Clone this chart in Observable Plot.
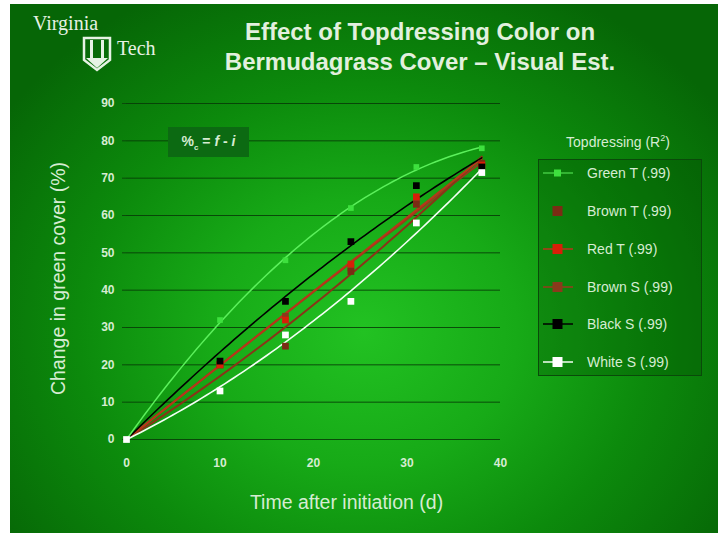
<!DOCTYPE html>
<html><head><meta charset="utf-8">
<script src="https://cdn.jsdelivr.net/npm/d3@7"></script>
<script src="https://cdn.jsdelivr.net/npm/@observablehq/plot@0.6"></script>
<style>
html,body{margin:0;padding:0;background:#fff;}
#page{position:relative;width:718px;height:535px;overflow:hidden;font-family:"Liberation Sans",Arial,sans-serif;}
#bg{position:absolute;left:10px;top:4px;width:708px;height:529px;
 background:radial-gradient(ellipse 62% 72% at 50% 62%, #22c222 0%, #17aa17 35%, #0c8a0c 65%, #066606 100%);}
#chart{position:absolute;left:0;top:0;}
.title{position:absolute;left:150px;width:540px;text-align:center;color:#e2f0de;font-size:24px;font-weight:bold;line-height:30px;top:17px;}
.lg{position:absolute;left:538px;top:159px;width:164px;height:217px;border:1px solid #0a4a0a;background:rgba(0,70,0,0.28);box-sizing:border-box;}
.lgt{position:absolute;left:528px;width:180px;top:133px;text-align:center;color:#d6ecd2;font-size:14px;}
.row{position:absolute;left:541px;height:20px;display:flex;align-items:center;color:#d6ecd2;font-size:14px;}
.row svg{margin-right:12px;}
.inset{position:absolute;left:168px;top:127px;width:81px;height:30px;background:#0c6a12;color:#d6ecd2;font-size:14px;font-weight:bold;display:flex;align-items:center;justify-content:center;}
.logo{position:absolute;left:33px;top:12px;color:#e6f2e4;font-family:"Liberation Serif","DejaVu Serif",serif;}
</style></head>
<body>
<div id="page">
<div id="bg"></div>
<div class="logo">
 <div style="position:absolute;left:0;top:0;font-size:20px;">Virginia</div>
 <svg style="position:absolute;left:49px;top:24px;" width="30" height="36" viewBox="0 0 30 36">
  <path d="M2 2 H28 V24 L15 34 L2 24 Z" fill="none" stroke="#e6f2e4" stroke-width="2.5"/>
  <rect x="8" y="4" width="3" height="18" fill="#e6f2e4"/><rect x="19" y="4" width="3" height="18" fill="#e6f2e4"/>
  <path d="M4 22 H26 L15 32 Z" fill="#e6f2e4"/>
 </svg>
 <div style="position:absolute;left:84px;top:25px;font-size:20px;">Tech</div>
</div>
<div class="title">Effect of Topdressing Color on<br>Bermudagrass Cover – Visual Est.</div>
<div id="chart"></div>
<div class="inset"><span>%<sub style="font-size:8px">c</sub>&nbsp;=&nbsp;<i>f</i>&nbsp;-&nbsp;<i>i</i></span></div>
<div class="lgt">Topdressing (R<sup style="font-size:9px">2</sup>)</div>
<div class="lg"></div>
<div id="legend"></div>
</div>
<script>
const days = [0, 10, 17, 24, 31, 38];
const seriesNames = ["Green T", "Brown T", "Red T", "Brown S", "Black S", "White S"];
const greenT = [0, 32, 48, 62, 73, 78];
const brownT = [0, 20, 25, 45, 63, 74];
const redT   = [0, 20, 32, 47, 65, 73.5];
const brownS = [0, 20, 33, 46, 64, 73];
const blackS = [0, 21, 37, 53, 68, 73];
const whiteS = [0, 13, 28, 37, 58, 71.5];
const r2Labels = [".99", ".99", ".99", ".99", ".99", ".99"];
const yTicks = [0, 10, 20, 30, 40, 50, 60, 70, 80, 90];
const xTicks = [0, 10, 20, 30, 40];

const values = [greenT, brownT, redT, brownS, blackS, whiteS];
const dotColors  = ["#3ee03e", "#7a2c14", "#d81e08", "#8a3a1c", "#000000", "#ffffff"];
const lineColors = ["#5cf05c", "#8a3418", "#b8361a", "#963c1c", "#000000", "#f4fff4"];
const lineWidths = [1.5, 2, 2, 2, 1.6, 1.6];

// quadratic least-squares trendline through origin (y = a x + b x^2)
function fit(xs, ys) {
  let s2=0,s3=0,s4=0,sxy=0,sx2y=0;
  xs.forEach((x,i)=>{const y=ys[i]; s2+=x*x; s3+=x*x*x; s4+=x*x*x*x; sxy+=x*y; sx2y+=x*x*y;});
  const det = s2*s4 - s3*s3;
  return [(sxy*s4 - s3*sx2y)/det, (s2*sx2y - s3*sxy)/det];
}
const pts = [], curves = [];
values.forEach((vals, si) => {
  vals.forEach((v, i) => pts.push({s: seriesNames[si], x: days[i], y: v, si}));
  const [a, b] = fit(days, vals);
  const xmax = d3.max(days);
  d3.range(0, xmax + 0.001, 0.5).forEach(x => curves.push({s: seriesNames[si], si, x, y: a*x + b*x*x}));
});
const drawOrder = [3, 1, 2, 4, 5, 0];

const marks = [
  Plot.gridY(yTicks.filter(d => d > 0), {stroke: "#073a07", strokeOpacity: 0.85, strokeWidth: 1}),
  Plot.ruleY([0], {stroke: "#073a07", strokeOpacity: 0.85}),
  Plot.axisY(yTicks, {tickSize: 4, tickPadding: 8, fontSize: 12, fontWeight: "bold", label: null, stroke: "#0a4a0a"}),
  Plot.axisX(xTicks, {tickSize: 0, tickPadding: 19, fontSize: 12, fontWeight: "bold", label: null}),
  Plot.text(["Change in green cover (%)"], {frameAnchor: "left", textAnchor: "middle", dx: -68, dy: 7, rotate: -90, fontSize: 19.5, fill: "#d6ecd2"}),
  Plot.text(["Time after initiation (d)"], {frameAnchor: "bottom", dx: 33, dy: 69, fontSize: 19.5, fill: "#d6ecd2"})
];
drawOrder.forEach(si => {
  marks.push(Plot.line(curves.filter(d => d.si === si), {x: "x", y: "y", stroke: lineColors[si], strokeWidth: lineWidths[si]}));
});
drawOrder.forEach(si => {
  marks.push(Plot.dot(pts.filter(d => d.si === si && d.x > 0 || (d.si === si && si === 5)), {x: "x", y: "y", symbol: "square", r: si === 0 ? 3.2 : 3.8, fill: dotColors[si], stroke: "none"}));
});

const chart = Plot.plot({
  width: 718, height: 535,
  marginLeft: 126, marginRight: 218, marginTop: 103, marginBottom: 96,
  x: {domain: [0, 40]},
  y: {domain: [0, 90]},
  style: {background: "transparent", color: "#d6ecd2", fontFamily: "'Liberation Sans', Arial, sans-serif", overflow: "visible"},
  marks
});
document.getElementById("chart").appendChild(chart);

// legend
const rowsY = [163, 201, 239, 277, 314, 352];
const leg = document.getElementById("legend");
seriesNames.forEach((name, si) => {
  const row = document.createElement("div");
  row.className = "row";
  row.style.top = rowsY[si] + "px";
  const showLine = si !== 1;
  row.innerHTML = `<svg width="34" height="20">${showLine ? `<line x1="2" x2="32" y1="10" y2="10" stroke="${lineColors[si]}" stroke-width="${si===0?1:1.5}"/>` : ""}<rect x="${si===0?13:11.5}" y="${si===0?6.5:5}" width="${si===0?7:10}" height="${si===0?7:10}" fill="${dotColors[si]}"/></svg><span>${name} (${r2Labels[si]})</span>`;
  leg.appendChild(row);
});
</script>
</body></html>
